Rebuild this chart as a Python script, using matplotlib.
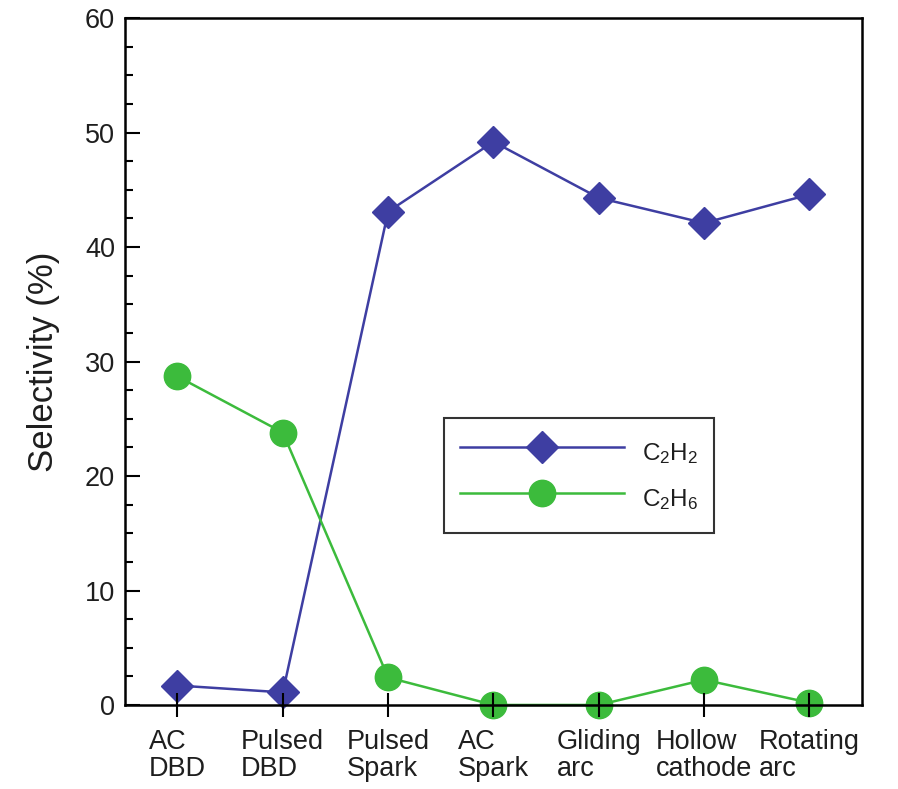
import matplotlib
matplotlib.use("Agg")
import matplotlib.pyplot as plt
from matplotlib.ticker import MultipleLocator

plt.rcParams['font.family'] = ['Liberation Sans', 'DejaVu Sans']
plt.rcParams['mathtext.fontset'] = 'custom'
plt.rcParams['mathtext.rm'] = 'Liberation Sans'
plt.rcParams['mathtext.it'] = 'Liberation Sans'

categories = ["AC\nDBD", "Pulsed\nDBD", "Pulsed\nSpark", "AC\nSpark", "Gliding\narc", "Hollow\ncathode", "Rotating\narc"]
c2h2 = [1.7, 1.1, 43.1, 49.2, 44.3, 42.1, 44.6]
c2h6 = [28.7, 23.8, 2.4, 0.0, 0.0, 2.2, 0.2]
y_ticks = [0, 10, 20, 30, 40, 50, 60]

fig = plt.figure(figsize=(8.98, 7.89), dpi=100)
ax = fig.add_axes([0.139, 0.1065, 0.821, 0.8705])

x = list(range(len(categories)))
blue = '#3E3EA2'
green = '#3CBB3C'
text_color = '#1e1e1e'
ax.plot(x, c2h2, color=blue, lw=1.8, marker='D', markersize=16.5, label='C$_2$H$_2$', zorder=3, clip_on=False)
ax.plot(x, c2h6, color=green, lw=1.8, marker='o', markersize=19, label='C$_2$H$_6$', zorder=3, clip_on=False)

ax.set_xlim(-0.5, 6.5)
ax.set_ylim(0, 60)
ax.set_xticks(x)
ax.set_xticklabels(categories, fontsize=19.5, ha='center', multialignment='left', linespacing=1.05,
                   color=text_color)
ax.set_yticks(y_ticks)
ax.set_yticklabels([str(v) for v in y_ticks], fontsize=19.5, color=text_color)
ax.yaxis.set_minor_locator(MultipleLocator(2.5))
ax.tick_params(axis='y', which='major', direction='in', length=11, width=1.5, pad=7, right=False)
ax.tick_params(axis='y', which='minor', direction='in', length=6, width=1.5)
ax.tick_params(axis='x', which='major', direction='inout', length=17, width=1.5, pad=9, top=False)
ax.xaxis.set_zorder(5)
ax.yaxis.set_zorder(5)
for s in ax.spines.values():
    s.set_linewidth(1.8)
    s.set_zorder(4)
ax.set_ylabel('Selectivity (%)', fontsize=25, labelpad=18, color=text_color)

leg = ax.legend(loc='lower left', bbox_to_anchor=(0.433, 0.25), fontsize=17.5,
                frameon=True, fancybox=False, edgecolor='black', handlelength=6.75,
                handleheight=2.0, borderpad=0.65, labelspacing=0.35, handletextpad=0.75,
                borderaxespad=0)
leg.get_frame().set_linewidth(1.5)
for t in leg.get_texts():
    t.set_color(text_color)

fig.savefig('out.png', dpi=100)
